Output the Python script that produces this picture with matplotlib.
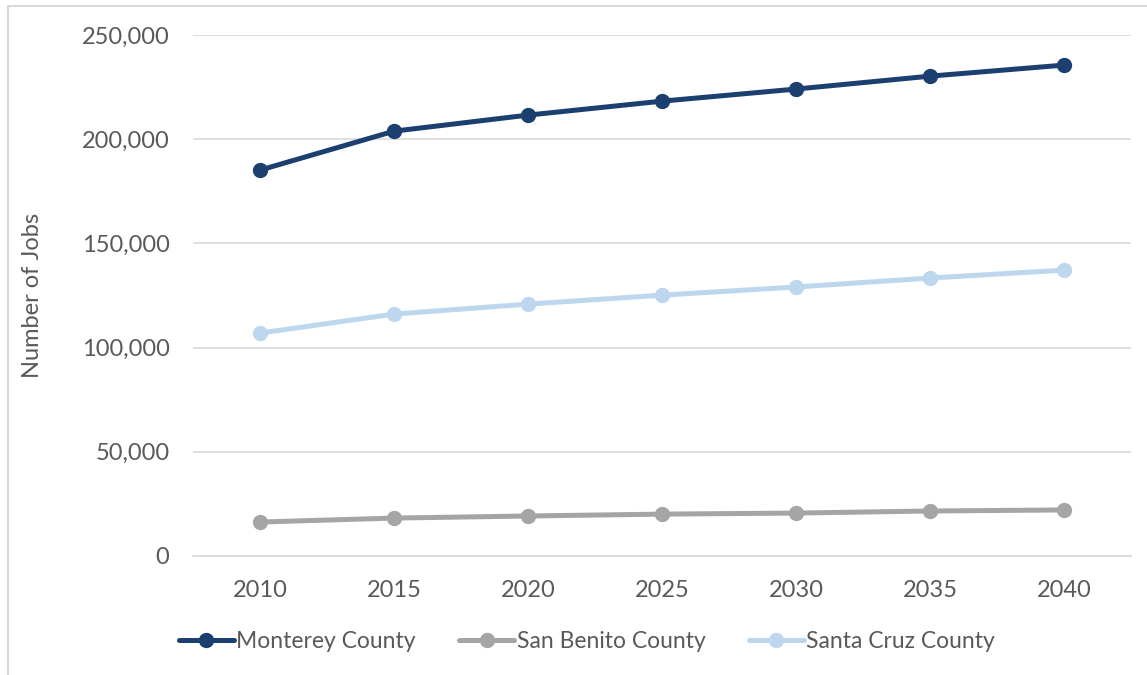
import matplotlib.pyplot as plt
from matplotlib.patches import Rectangle

years = [2010, 2015, 2020, 2025, 2030, 2035, 2040]
monterey = [185200, 203900, 211600, 218300, 224100, 230300, 235600]
san_benito = [16300, 18200, 19200, 20100, 20600, 21600, 22100]
santa_cruz = [107000, 116100, 120900, 125200, 129100, 133400, 137200]

names = ['Monterey County', 'San Benito County', 'Santa Cruz County']
colors = ['#1b3f6e', '#a5a5a5', '#bdd7ee']
tick_col = '#595959'

plt.rcParams['font.family'] = ['Lato', 'DejaVu Sans']

fig = plt.figure(figsize=(11.47, 6.75), dpi=100)
ax = fig.add_axes([0.1683, 0.1763, 0.8177, 0.7717])

# light frame around the chart area
fig.patches.append(Rectangle((8/1147, -0.05), 1.2, 1 - 6/675 + 0.05,
                             transform=fig.transFigure, fill=False,
                             edgecolor='#d9d9d9', linewidth=1.5))

for vals, name, c in zip([monterey, san_benito, santa_cruz], names, colors):
    ax.plot(years, vals, color=c, linewidth=3.6, marker='o', markersize=10,
            label=name, solid_capstyle='round')

ax.set_xlim(2007.5, 2042.5)
ax.set_ylim(0, 250000)
ax.set_xticks(years)
ax.set_yticks(range(0, 250001, 50000))
ax.set_yticklabels(['{:,}'.format(v) for v in range(0, 250001, 50000)])
ax.grid(axis='y', color='#d9d9d9', linewidth=1.2)
ax.set_axisbelow(True)
for s in ax.spines.values():
    s.set_visible(False)
ax.spines['bottom'].set_visible(True)
ax.spines['bottom'].set_color('#d9d9d9')
ax.spines['bottom'].set_linewidth(1.2)
ax.tick_params(axis='both', length=0, labelsize=17, labelcolor=tick_col)
ax.tick_params(axis='y', pad=17)
ax.tick_params(axis='x', pad=17)
ax.set_ylabel('Number of Jobs', fontsize=17, color=tick_col)
ax.yaxis.set_label_coords(-0.16, 0.5)

ax.legend(loc='upper center', bbox_to_anchor=(0.42, -0.105), ncol=3,
          frameon=False, fontsize=16.5, handlelength=2.4, handletextpad=0.1,
          columnspacing=1.9, labelcolor=tick_col)

fig.savefig('out.png', dpi=100)
